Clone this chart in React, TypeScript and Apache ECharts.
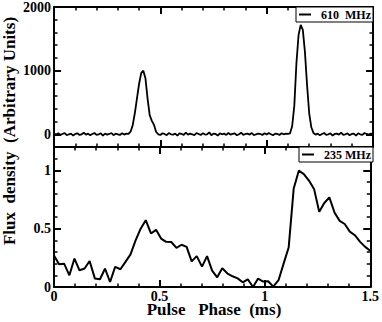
import React, { useEffect, useRef } from "react";
import * as echarts from "echarts";

// ---------- DATA ----------
// Top panel (610 MHz): profile sampled every 0.01 ms starting at 0
const topStep = 0.01;
const topBaselineA = [10, -5, 15, -10, 5, 20, -15, 0, 10, -20, 5, 15, -10, 0, 25, -5, 10, -15, 5, 20, -10, 0, 15, -20, 10, -5, 5, 20, -15, 10, 0, -10, 15, -5, 10];
const topPulseA = [5, 40, 140, 330, 560, 790, 960, 1000, 880, 560, 300, 210, 150, 40, 0];
const topBaselineB = [-10, 15, 5, -15, 20, 0, -5, 10, -20, 15, 5, -10, 25, -5, 10, 0, -15, 20, 5, -10, 15, -5, 0, 30, -15, 10, 5, -20, 15, 0, 10, -10, 20, -5, 5, 15, -15, 0, 25, -10, 5, 10, -5, 20, -15, 0, 10, 5, -10, 15, -5, 20, 0, -15, 10, 5, -10, 15, 0, 10];
const topPulseB = [5, 15, 130, 450, 1120, 1560, 1720, 1640, 1290, 770, 330, 110, 20];
const topBaselineC = [-5, 10, -15, 5, 20, -10, 0, 15, -20, 5, 10, -5, 25, -10, 0, 15, -15, 5, 10, -20, 15, 0, -10, 20, 5, -5, 10, 0];

// Bottom panel (235 MHz)
const lowPhase = [0, 0.024, 0.048, 0.073, 0.097, 0.121, 0.145, 0.169, 0.194, 0.218, 0.242, 0.266, 0.29, 0.315, 0.339, 0.363, 0.387, 0.411, 0.435, 0.46, 0.484, 0.508, 0.532, 0.556, 0.581, 0.605, 0.629, 0.653, 0.677, 0.702, 0.726, 0.75, 0.774, 0.798, 0.823, 0.847, 0.871, 0.895, 0.919, 0.944, 0.968, 0.992, 1.016, 1.04, 1.065, 1.089, 1.113, 1.137, 1.161, 1.185, 1.21, 1.234, 1.258, 1.282, 1.306, 1.331, 1.355, 1.379, 1.403, 1.427, 1.452, 1.476, 1.5];
const lowValues = [0.27, 0.195, 0.2, 0.1, 0.244, 0.143, 0.158, 0.223, 0.072, 0.066, 0.158, 0.043, 0.172, 0.152, 0.215, 0.28, 0.4, 0.5, 0.573, 0.459, 0.49, 0.415, 0.387, 0.386, 0.336, 0.362, 0.344, 0.22, 0.265, 0.175, 0.265, 0.14, 0.083, 0.16, 0.115, 0.092, 0.074, 0.04, 0.066, 0.0, 0.072, 0.047, 0.049, 0.003, 0.058, 0.2, 0.338, 0.845, 0.997, 0.968, 0.91, 0.837, 0.644, 0.72, 0.768, 0.636, 0.567, 0.54, 0.475, 0.444, 0.387, 0.344, 0.31];

const seriesNames = ["610\u00a0\u00a0MHz", "235 MHz"];
const xTickLabels = [0, 0.5, 1, 1.5];
const topYTicks = [0, 1000, 2000];
const lowYTicks = [0, 0.5, 1];
const xTitle = "Pulse\u00a0\u00a0\u00a0Phase\u00a0\u00a0(ms)";
const yTitle = "Flux\u00a0\u00a0density\u00a0\u00a0(Arbitrary Units)";

// ---------- CHART ----------
const FONT = '"Liberation Serif", "Times New Roman", serif';
const BLACK = "#000";
const plainNum = (v: number) => String(v);

function xAxisCfg(grid: number, position: string, showLabel: boolean) {
  return {
    gridIndex: grid,
    type: "value",
    min: 0,
    max: 1.5,
    interval: 0.5,
    position,
    axisLine: { show: true, onZero: false, lineStyle: { color: BLACK, width: 2 } },
    axisTick: { show: true, inside: true, length: 7, lineStyle: { color: BLACK, width: 2 } },
    minorTick: { show: true, splitNumber: 5, length: 3.5, lineStyle: { color: BLACK, width: 1.5 } },
    axisLabel: {
      show: showLabel,
      color: BLACK,
      fontFamily: FONT,
      fontWeight: "bold",
      fontSize: 14,
      lineHeight: 12,
      margin: 3,
      formatter: plainNum,
      customValues: xTickLabels,
    },
    splitLine: { show: false },
    minorSplitLine: { show: false },
  };
}

function yMinorCfg(grid: number, position: string, min: number, max: number, interval: number) {
  return {
    gridIndex: grid,
    type: "value",
    min,
    max,
    interval,
    position,
    axisLine: { show: true, onZero: false, lineStyle: { color: BLACK, width: 2 } },
    axisTick: { show: true, inside: true, length: 3.5, lineStyle: { color: BLACK, width: 1.5 } },
    axisLabel: { show: false },
    splitLine: { show: false },
  };
}

function yMajorCfg(grid: number, position: string, min: number, max: number, ticks: number[], showLabel: boolean) {
  return {
    gridIndex: grid,
    type: "value",
    min,
    max,
    position,
    axisLine: { show: false, onZero: false },
    axisTick: { show: true, inside: true, length: 7, lineStyle: { color: BLACK, width: 2 }, customValues: ticks },
    axisLabel: {
      show: showLabel,
      customValues: ticks,
      formatter: plainNum,
      color: BLACK,
      fontFamily: FONT,
      fontWeight: "bold",
      fontSize: 14,
      margin: 3,
    },
    splitLine: { show: false },
  };
}

function legendCfg(name: string, top: number) {
  return {
    data: [name],
    right: 9,
    top,
    orient: "horizontal",
    icon: "rect",
    itemWidth: 12,
    itemHeight: 2,
    padding: [1, 2, 1, 3],
    borderColor: BLACK,
    borderWidth: 1,
    borderRadius: 0,
    backgroundColor: "#fff",
    selectedMode: false,
    textStyle: {
      color: BLACK,
      fontFamily: FONT,
      fontWeight: "bold",
      fontSize: 12,
      lineHeight: 13,
      padding: [0, 0, 0, 5],
    },
  };
}

export default function App() {
  const ref = useRef<HTMLDivElement>(null);

  useEffect(() => {
    document.body.style.margin = "0";
    if (!ref.current) return;
    const chart = echarts.init(ref.current, null, { renderer: "svg" });

    const topValues = [...topBaselineA, ...topPulseA, ...topBaselineB, ...topPulseB, ...topBaselineC];
    const topData = topValues.map((v, i) => [Number((i * topStep).toFixed(2)), v]);
    const lowData = lowPhase.map((p, i) => [p, lowValues[i]]);

    chart.setOption({
      animation: false,
      backgroundColor: "#fff",
      grid: [
        { left: 54, top: 7, width: 319, height: 140, containLabel: false },
        { left: 54, top: 147, width: 319, height: 140, containLabel: false },
      ],
      xAxis: [
        xAxisCfg(0, "bottom", false),
        xAxisCfg(0, "top", false),
        xAxisCfg(1, "bottom", true),
        xAxisCfg(1, "top", false),
      ],
      yAxis: [
        yMinorCfg(0, "left", -200, 2000, 200),
        yMajorCfg(0, "left", -200, 2000, topYTicks, true),
        yMinorCfg(0, "right", -200, 2000, 200),
        yMajorCfg(0, "right", -200, 2000, topYTicks, false),
        yMinorCfg(1, "left", 0, 1.2, 0.1),
        yMajorCfg(1, "left", 0, 1.2, lowYTicks, true),
        yMinorCfg(1, "right", 0, 1.2, 0.1),
        yMajorCfg(1, "right", 0, 1.2, lowYTicks, false),
      ],
      legend: [legendCfg(seriesNames[0], 7), legendCfg(seriesNames[1], 147)],
      series: [
        {
          name: seriesNames[0],
          type: "line",
          xAxisIndex: 0,
          yAxisIndex: 0,
          data: topData,
          showSymbol: false,
          symbol: "none",
          lineStyle: { color: BLACK, width: 1.8 },
          itemStyle: { color: BLACK },
          z: 3,
        },
        {
          name: seriesNames[1],
          type: "line",
          xAxisIndex: 2,
          yAxisIndex: 4,
          data: lowData,
          showSymbol: false,
          symbol: "none",
          lineStyle: { color: BLACK, width: 2 },
          itemStyle: { color: BLACK },
          z: 3,
        },
      ],
      graphic: [
        {
          type: "text",
          x: 9,
          y: 131,
          rotation: Math.PI / 2,
          style: {
            text: yTitle,
            fill: BLACK,
            font: 'bold 17px "Liberation Serif", serif',
            align: "center",
            verticalAlign: "middle",
          },
        },
        {
          type: "text",
          x: 214,
          y: 309.5,
          style: {
            text: xTitle,
            fill: BLACK,
            font: 'bold 17px "Liberation Serif", serif',
            lineHeight: 12,
            align: "center",
            verticalAlign: "middle",
          },
        },
      ],
    });

    return () => chart.dispose();
  }, []);

  return <div ref={ref} style={{ width: 382, height: 322 }} />;
}
